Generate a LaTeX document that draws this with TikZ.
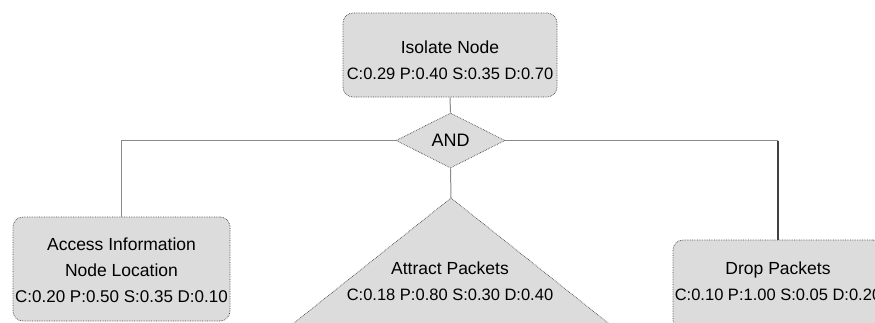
\documentclass[tikz,border=0pt]{standalone}
\usepackage{fontspec}
\setmainfont{Liberation Sans}
\usetikzlibrary{shapes.geometric}
\definecolor{boxfill}{HTML}{DCDCDC}
\definecolor{edge}{HTML}{484848}
\definecolor{wire}{HTML}{8A8A8A}
\begin{document}
\begin{tikzpicture}[x=1pt,y=-1pt,
  box/.style={draw=edge, densely dotted, line width=0.7pt, fill=boxfill, rounded corners=10pt},
  andgate/.style={diamond, draw=edge, densely dotted, line width=0.7pt, fill=boxfill, aspect=2, inner sep=0pt, minimum width=109pt, minimum height=55pt, font=\fontsize{18}{18}\selectfont},
  txt/.style={align=center, inner sep=0pt, font=\fontsize{17.5}{26}\selectfont},
  wireline/.style={draw=wire, line width=1pt},
  darkwire/.style={draw=black!75, line width=1.2pt}
]
\useasboundingbox (0,0) rectangle (875,322);
\clip (0,0) rectangle (875,322);
% top node
\node[box, minimum width=214pt, minimum height=84pt] (top) at (450,55) {};
\node[txt] (toptxt) at (450,60) {Isolate Node\\{\fontsize{16.5}{26}\selectfont C:0.29 P:0.40 S:0.35 D:0.70}};
% AND gate
\node[andgate] (and) at (450.5,140.5) {AND};
% left box
\node[box, minimum width=217pt, minimum height=104pt] (left) at (121.5,269) {};
\node[txt] (lefttxt) at (121.5,270) {Access Information\\Node Location\\{\fontsize{17}{26}\selectfont C:0.20 P:0.50 S:0.35 D:0.10}};
% triangle
\coordinate (apex) at (451,198);
\coordinate (bl) at (255,354);
\coordinate (br) at (647,354);
\path[draw=edge, densely dotted, line width=0.7pt, fill=boxfill] (apex) -- (br) -- (bl) -- cycle;
\node[txt] (tritxt) at (450,281) {Attract Packets\\{\fontsize{16.5}{26}\selectfont C:0.18 P:0.80 S:0.30 D:0.40}};
% right box
\node[box, minimum width=210pt, minimum height=90pt] (right) at (778,285) {};
\node[txt] (righttxt) at (778,281.5) {Drop Packets\\{\fontsize{16.5}{26}\selectfont C:0.10 P:1.00 S:0.05 D:0.20}};
% connectors
\draw[wireline] (top.south) -- (and.north);
\draw[wireline] (and.south) -- (apex);
\draw[wireline] (and.west) -- (left.north |- and.west) -- (left.north);
\draw[wireline] (and.east) -- (right.north |- and.east) coordinate (rc);
\draw[darkwire] (rc) -- (right.north);
\end{tikzpicture}
\end{document}
